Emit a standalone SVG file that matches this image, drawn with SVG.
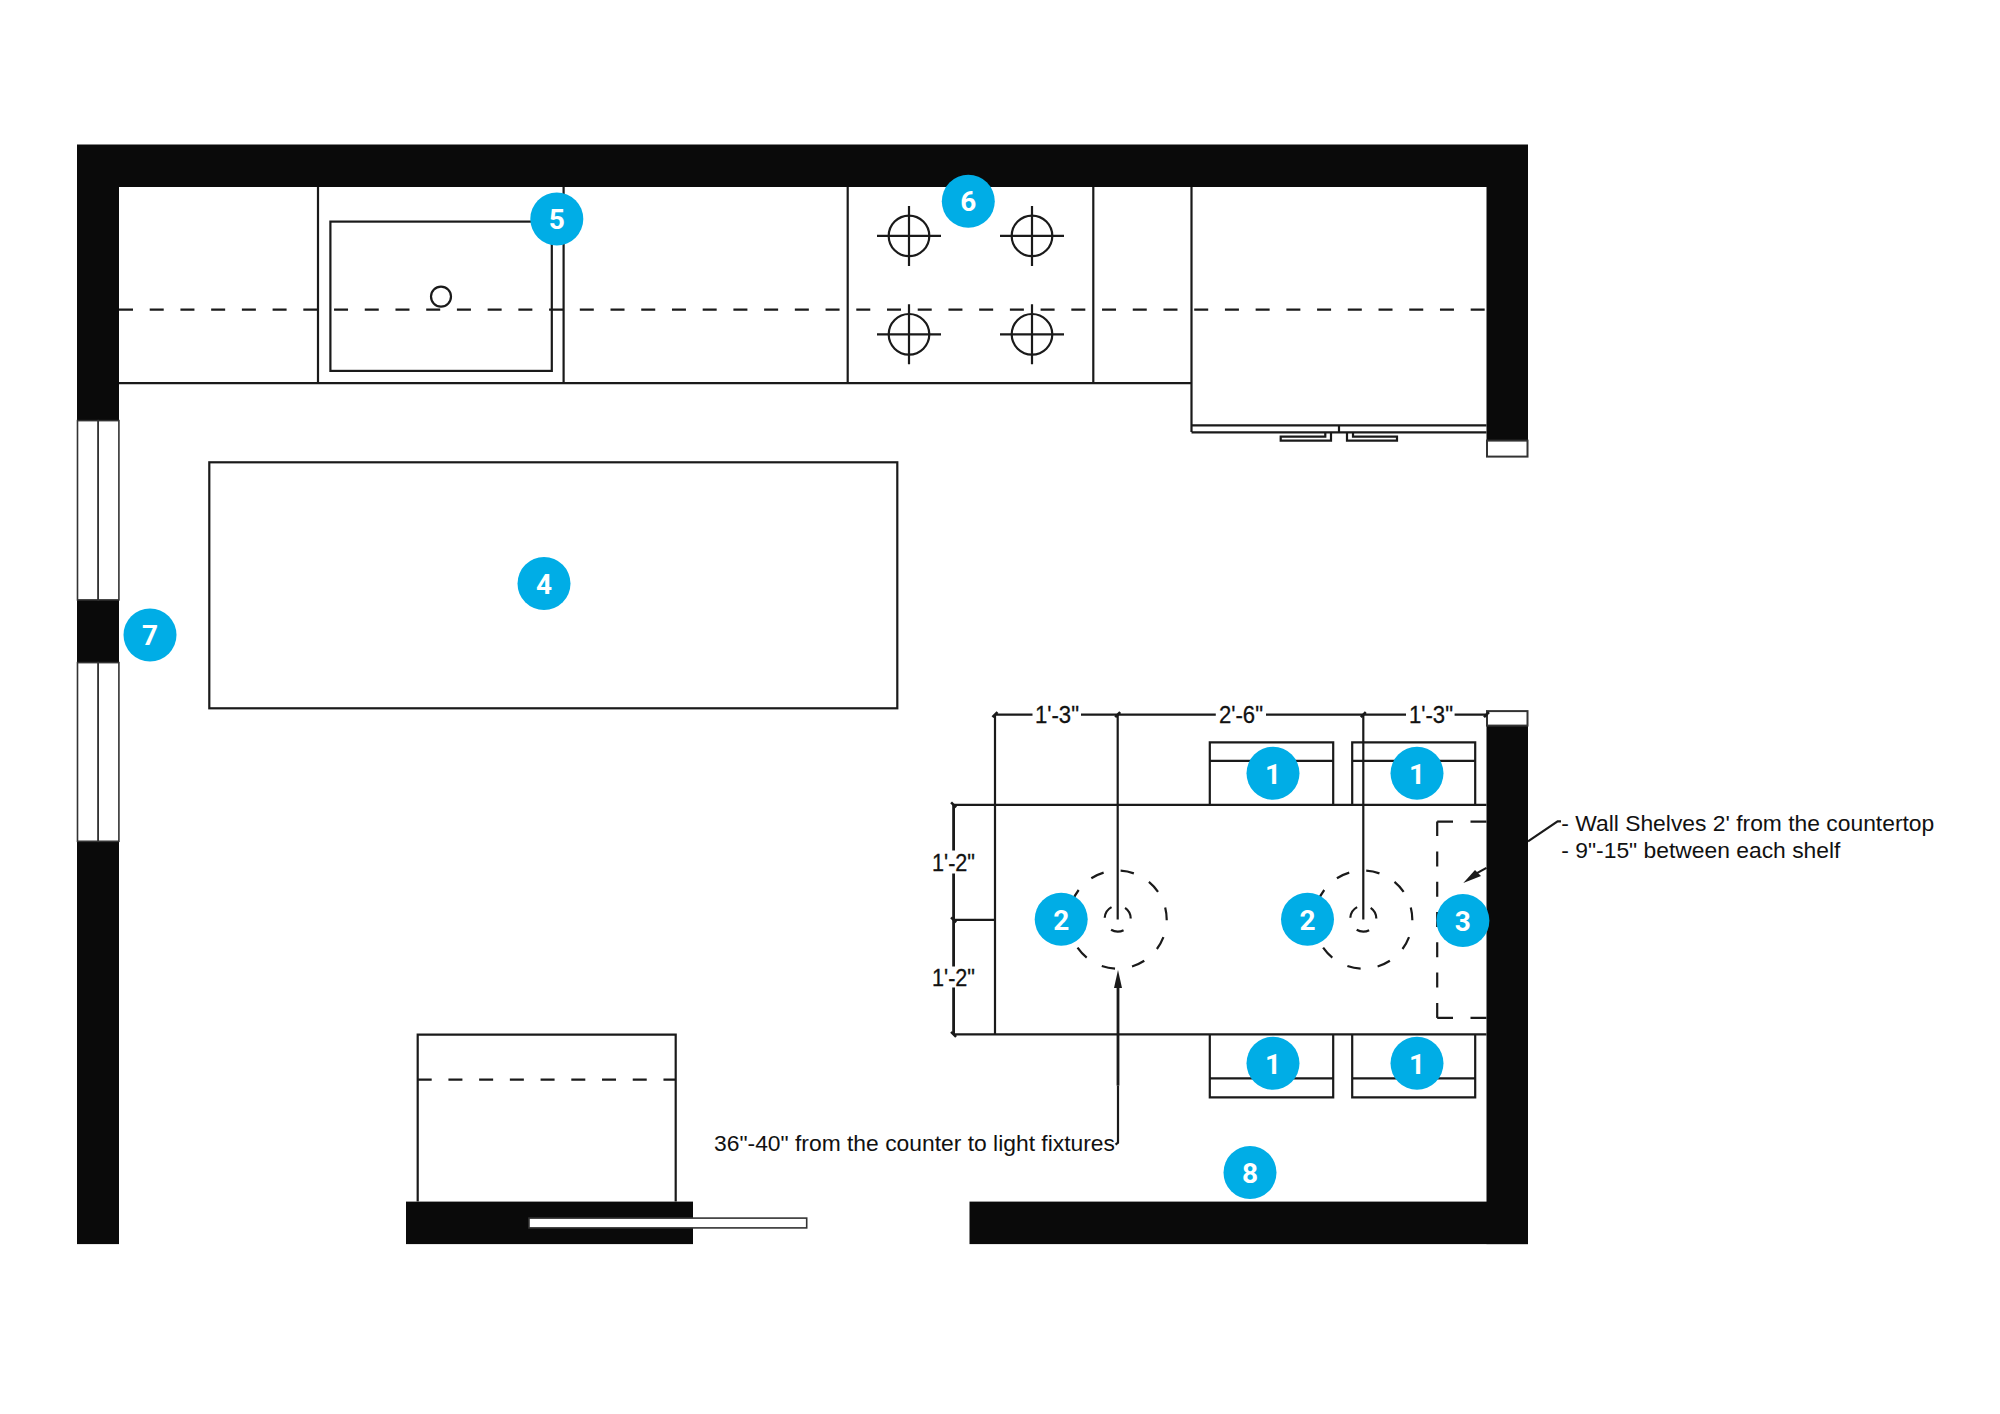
<svg xmlns="http://www.w3.org/2000/svg" width="2000" height="1414" viewBox="0 0 2000 1414">
<defs>
<style>
.wall{fill:#0a0a0a}
.ln{fill:none;stroke:#1a1a1a;stroke-width:2.2}
.thick{fill:none;stroke:#1a1a1a;stroke-width:2.8}
.win{fill:#fff;stroke:#333;stroke-width:1.6}
.dash{fill:none;stroke:#1a1a1a;stroke-width:2.2;stroke-dasharray:14 16.72}
.outer{fill:none;stroke:#1a1a1a;stroke-width:2.2;stroke-dasharray:13.5 17.29;stroke-dashoffset:12.8}
.inner{fill:none;stroke:#1a1a1a;stroke-width:2.2;stroke-dasharray:13 14.23;stroke-dashoffset:13}
.lab{font-family:"Liberation Sans",Arial,sans-serif;font-size:22.85px;fill:#111}
.dim{font-family:"Liberation Sans",Arial,sans-serif;font-size:24px;fill:#111;stroke:#111;stroke-width:.3}
.badge{fill:#00ade6}
.num{font-family:Roboto,"Liberation Sans",sans-serif;font-size:28px;font-weight:700;fill:#fff;text-anchor:middle}
.tick{fill:#1a1a1a}
.tk{fill:none;stroke:#1a1a1a;stroke-width:2.6}
</style>
<g id="burner"><circle r="20.3" class="ln"/><path d="M-32 0H32M0-30V30" class="ln"/></g>
<path id="tka" d="M-2.5 2.5L2.5-2.5" class="tk"/>
<path id="tkb" d="M-2.5-2.5L2.5 2.5" class="tk"/>
</defs>
<rect width="2000" height="1414" fill="#fff"/>
<g transform="translate(0 0.6)">
<g id="counter">
<path class="ln" d="M119 382.5H1191.5M318 186.5V382.5M563.6 186.5V382.5M847.7 186.5V382.5M1093.3 186.5V382.5M1191.5 186.5V431.5"/>
<line class="dash" x1="119" y1="309" x2="1486.5" y2="309"/>
<rect class="ln" x="330.4" y="221" width="221.4" height="149.3"/>
<circle class="ln" cx="441" cy="296" r="10"/>
<use href="#burner" x="909" y="235.3"/><use href="#burner" x="1032" y="235.3"/>
<use href="#burner" x="909" y="333.7"/><use href="#burner" x="1032" y="333.7"/>
<path class="ln" d="M1191.5 424.7H1486.5M1191.5 431.7H1486.5M1339 424.7V431.7"/>
<path class="ln" d="M1325.3 431.7V436H1280.7V440H1331V431.7M1353 431.7V436H1397V440H1347V431.7"/>
</g>

<g id="walls">
<path class="wall" d="M77 144H1528V440H1486.5V186.5H119V420H77Z"/>
<rect class="wall" x="77" y="599.3" width="42" height="62.7"/>
<rect class="wall" x="77" y="840.7" width="42" height="402.8"/>
<rect class="wall" x="1486.5" y="725" width="41.5" height="518.5"/>
<rect class="wall" x="969.5" y="1201" width="558.5" height="42.5"/>
<rect class="wall" x="406" y="1201" width="287" height="42.5"/>
<rect class="win" x="77.5" y="420" width="20.7" height="179.3"/>
<rect class="win" x="98.2" y="420" width="20.7" height="179.3"/>
<rect class="win" x="77.5" y="662" width="20.7" height="178.7"/>
<rect class="win" x="98.2" y="662" width="20.7" height="178.7"/>
<rect class="win" x="1487" y="440" width="40.5" height="16" style="stroke-width:2"/>
<rect class="win" x="1487" y="710.5" width="40.5" height="14.5" style="stroke-width:2"/>
</g>

<g id="island"><rect class="ln" x="209.3" y="461.7" width="688" height="246"/></g>

<g id="range-unit">
<path class="ln" d="M417.7 1201V1034H675.7V1201"/>
<line class="dash" x1="417.7" y1="1079" x2="675.7" y2="1079"/>
<rect x="529" y="1217.5" width="277.7" height="9.8" fill="#fff" stroke="#333" stroke-width="1.6"/>
</g>

<g id="chairs">
<path class="ln" d="M1209.8 804V741.7H1333.2V804M1209.8 760.3H1333.2"/>
<path class="ln" d="M1352.2 804V741.7H1475.2V804M1352.2 760.3H1475.2"/>
<path class="ln" d="M1209.8 1034V1096.7H1333.2V1034M1209.8 1077.7H1333.2"/>
<path class="ln" d="M1352.2 1034V1096.7H1475.2V1034M1352.2 1077.7H1475.2"/>
</g>

<g id="table">
<path class="ln" d="M953.6 804.3H1486.5M953.6 1033.7H1486.5M953.6 919.3H995"/>
<line class="dash" style="stroke-dasharray:15 15.3" x1="1437.2" y1="1017.3" x2="1437.2" y2="821"/>
<path class="ln" d="M1437.2 821H1453M1470.5 821H1486.5M1437.2 1017.3H1453M1470.5 1017.3H1486.5"/>
<circle class="outer" cx="1117.7" cy="919" r="49"/><circle class="inner" cx="1117.7" cy="918" r="13"/>
<circle class="outer" cx="1363.3" cy="919" r="49"/><circle class="inner" cx="1363.3" cy="918" r="13"/>
</g>

<g id="connectors">
<path class="ln" d="M995 714H1032.5M1081 714H1215.8M1266 714H1406M1454.6 714H1486.5"/>
<path class="ln" d="M995 714V1033.7M1117.7 714V919M1363.3 714V919"/>
<path class="thick" d="M953.6 804.3V850M953.6 873V966M953.6 987V1033.7"/>
<use href="#tka" x="995" y="714"/><use href="#tka" x="1117.7" y="714"/><use href="#tka" x="1363.3" y="714"/><use href="#tka" x="1486.5" y="714"/>
<use href="#tkb" x="953.6" y="804.3"/><use href="#tkb" x="953.6" y="919.3"/><use href="#tkb" x="953.6" y="1033.7"/>
<path class="ln" d="M1115.5 1144L1118 1142V1085"/>
<path class="thick" d="M1118 1085V980"/>
<path class="tick" d="M1118 969.3L1122 987.3H1114Z"/>
<path class="ln" d="M1528 840.7L1557.6 820.7H1561"/>
<path class="ln" d="M1486.5 867.3L1476 873"/>
<path class="tick" d="M1463.3 882.3L1475 869.5L1481 875.5Z"/>
</g>

<g id="labels">
<text class="dim" x="1035" y="722" textLength="44" lengthAdjust="spacingAndGlyphs">1'-3"</text>
<text class="dim" x="1219" y="722" textLength="44" lengthAdjust="spacingAndGlyphs">2'-6"</text>
<text class="dim" x="1409" y="722" textLength="44" lengthAdjust="spacingAndGlyphs">1'-3"</text>
<text class="dim" x="932" y="870" textLength="43" lengthAdjust="spacingAndGlyphs">1'-2"</text>
<text class="dim" x="932" y="985" textLength="43" lengthAdjust="spacingAndGlyphs">1'-2"</text>
<text class="lab" x="714" y="1150.6">36"-40" from the counter to light fixtures</text>
<text class="lab" x="1561.3" y="830">- Wall Shelves 2' from the countertop</text>
<text class="lab" x="1561.3" y="857.5">- 9"-15" between each shelf</text>
</g>

<g id="badge-1a"><circle class="badge" cx="1273" cy="772.7" r="26.5"/><text class="num" x="1273" y="783">1</text></g>
<g id="badge-1b"><circle class="badge" cx="1417" cy="772.7" r="26.5"/><text class="num" x="1417" y="783">1</text></g>
<g id="badge-1c"><circle class="badge" cx="1273" cy="1062.7" r="26.5"/><text class="num" x="1273" y="1073">1</text></g>
<g id="badge-1d"><circle class="badge" cx="1417" cy="1062.7" r="26.5"/><text class="num" x="1417" y="1073">1</text></g>
<g id="badge-2a"><circle class="badge" cx="1061.2" cy="918.7" r="26.5"/><text class="num" x="1061.2" y="929">2</text></g>
<g id="badge-2b"><circle class="badge" cx="1307.5" cy="918.7" r="26.5"/><text class="num" x="1307.5" y="929">2</text></g>
<g id="badge-3"><circle class="badge" cx="1462.9" cy="920" r="26.5"/><text class="num" x="1462.9" y="930">3</text></g>
<g id="badge-4"><circle class="badge" cx="544" cy="583" r="26.5"/><text class="num" x="544" y="593">4</text></g>
<g id="badge-5"><circle class="badge" cx="556.8" cy="218.3" r="26.5"/><text class="num" x="556.8" y="228.3">5</text></g>
<g id="badge-6"><circle class="badge" cx="968.3" cy="200.7" r="26.5"/><text class="num" x="968.3" y="210.7">6</text></g>
<g id="badge-7"><circle class="badge" cx="150" cy="634.3" r="26.5"/><text class="num" x="150" y="644.3">7</text></g>
<g id="badge-8"><circle class="badge" cx="1250" cy="1172" r="26.5"/><text class="num" x="1250" y="1182">8</text></g>
</g>
</svg>
